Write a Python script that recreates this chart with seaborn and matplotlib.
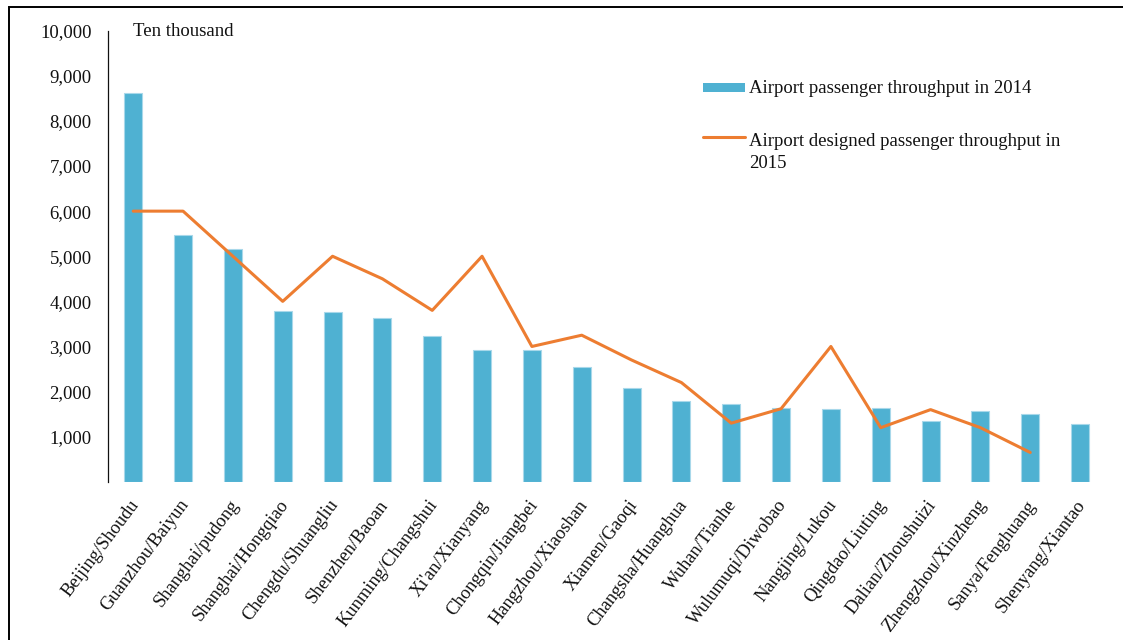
import numpy as np
import pandas as pd
import matplotlib
matplotlib.use("Agg")
import matplotlib.pyplot as plt
import matplotlib.transforms as mtransforms
from matplotlib.patches import Rectangle
from matplotlib.lines import Line2D
import seaborn as sns

airports = ["Beijing/Shoudu", "Guanzhou/Baiyun", "Shanghai/pudong", "Shanghai/Hongqiao",
            "Chengdu/Shuangliu", "Shenzhen/Baoan", "Kunming/Changshui", "Xi'an/Xianyang",
            "Chongqin/Jiangbei", "Hangzhou/Xiaoshan", "Xiamen/Gaoqi", "Changsha/Huanghua",
            "Wuhan/Tianhe", "Wulumuqi/Diwobao", "Nangjing/Lukou", "Qingdao/Liuting",
            "Dalian/Zhoushuizi", "Zhengzhou/Xinzheng", "Sanya/Fenghuang", "Shenyang/Xiantao"]
throughput_2014 = [8613, 5478, 5168, 3797, 3767, 3627, 3223, 2926, 2926, 2552,
                   2086, 1802, 1727, 1631, 1620, 1641, 1355, 1580, 1492, 1275]
designed_2015 = [6000, 6000, 5000, 4000, 5000, 4500, 3800, 5000, 3000, 3250,
                 2700, 2200, 1300, 1620, 3000, 1200, 1600, 1200, 650, np.nan]
yticks = [1000, 2000, 3000, 4000, 5000, 6000, 7000, 8000, 9000, 10000]

label_bar = "Airport passenger throughput in 2014"
label_line = "Airport designed passenger throughput in\n2015"
unit_text = "Ten thousand"

BAR_COLOR = "#4FB1D2"
LINE_COLOR = "#ED7D31"
TEXT_COLOR = "#111111"
FONT = ["Liberation Serif", "DejaVu Serif"]

sns.set_theme(style="white")
plt.rcParams["font.family"] = FONT

W, H = 1123, 640
fig = plt.figure(figsize=(W / 100, H / 100), dpi=100)
ax = fig.add_axes([108.3 / W, 1 - 481.8 / H, (1105 - 108.3) / W, (481.8 - 30.7) / H])

df = pd.DataFrame({"airport": airports, "pos": np.arange(len(airports)),
                   "t2014": throughput_2014, "d2015": designed_2015})

sns.barplot(data=df, x="airport", y="t2014", order=airports, color=BAR_COLOR,
            saturation=1, width=0.36, edgecolor="#A8D8EA", linewidth=0.8, ax=ax)
sns.lineplot(data=df.dropna(), x="pos", y="d2015", color=LINE_COLOR, linewidth=2.2,
             sort=False, ax=ax)

ax.set_xlim(-0.5, len(airports) - 0.5)
ax.set_ylim(0, 10000)
ax.set_yticks(yticks)
ax.set_yticklabels([f"{v:,}" for v in yticks])
ax.set_xlabel("")
ax.set_ylabel("")
ax.tick_params(axis="y", length=0, pad=12, labelsize=13.5, colors=TEXT_COLOR)
ax.tick_params(axis="x", length=0, pad=0, labelsize=13.3, colors=TEXT_COLOR)
ax.set_xticks(np.arange(len(airports)))
ax.set_xticklabels(airports, rotation=53, ha="right", va="center", rotation_mode="anchor")
offset = mtransforms.ScaledTranslation(2.5 / 100, -20.0 / 100, fig.dpi_scale_trans)
for lbl in ax.get_xticklabels():
    lbl.set_transform(lbl.get_transform() + offset)

for s in ["top", "right", "bottom"]:
    ax.spines[s].set_visible(False)
ax.spines["left"].set_color(TEXT_COLOR)
ax.spines["left"].set_linewidth(0.9)
ax.grid(False)

# unit label
fig.text(132.7 / W, 1 - 36.3 / H, unit_text, fontsize=13.5, ha="left", va="baseline",
         color=TEXT_COLOR)

# legend
fig.add_artist(Rectangle((703 / W, 1 - 91.7 / H), 42 / W, 9 / H, transform=fig.transFigure,
                         facecolor=BAR_COLOR, edgecolor="none"))
fig.text(749 / W, 1 - 93.3 / H, label_bar, fontsize=13.5, ha="left", va="baseline",
         color=TEXT_COLOR)
fig.add_artist(Line2D([703 / W, 745 / W], [1 - 136.7 / H, 1 - 136.7 / H],
                      transform=fig.transFigure, color=LINE_COLOR, linewidth=2.2))
fig.text(749 / W, 1 - 168.5 / H, label_line, fontsize=13.5, ha="left", va="baseline",
         linespacing=1.45, color=TEXT_COLOR)

# outer frame (top and left edges visible)
fig.add_artist(Rectangle((8.5 / W, -0.1), 1.2, 1.1 - 6.5 / H, transform=fig.transFigure,
                         facecolor="none", edgecolor="black", linewidth=1.4))

fig.savefig("out.png", dpi=100)
